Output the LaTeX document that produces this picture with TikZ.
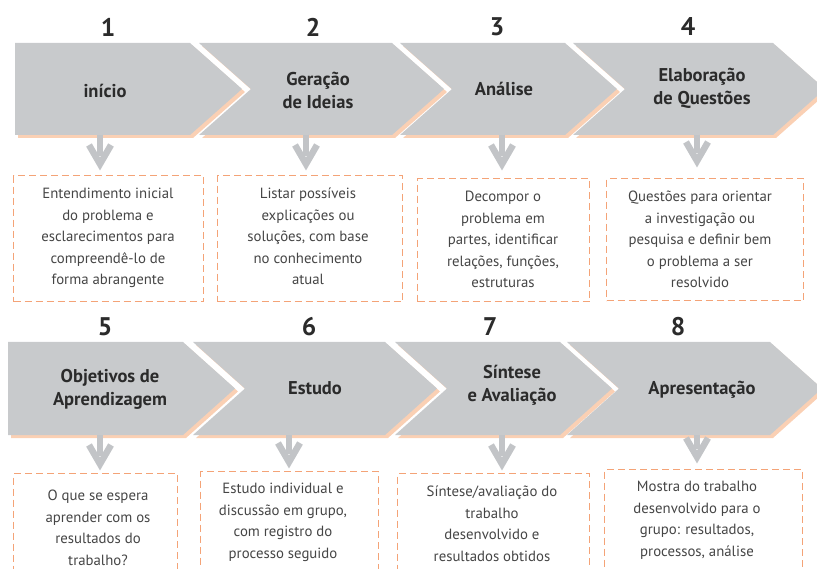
\documentclass[tikz,border=0pt]{standalone}
\usepackage{fontspec}
\setmainfont{PT Sans}
\definecolor{chevgray}{HTML}{C8CACC}
\definecolor{shadoworange}{HTML}{FAD0B4}
\definecolor{dashorange}{HTML}{F4A377}
\definecolor{arrowgray}{HTML}{C2C4C7}
\definecolor{titletext}{HTML}{2B2B2B}
\definecolor{bodytext}{HTML}{454545}
\newcommand{\chevpath}[5]{(#1,#4) -- (#3,#4) -- ({#3+52},{(#4+#5)/2}) -- (#3,#5) -- (#1,#5) -- ({#1+#2},{(#4+#5)/2}) -- cycle}
\newcommand{\mychevron}[5]{%
  \fill[chevshadow, shift={(3,3)}] \chevpath{#1}{#2}{#3}{#4}{#5};
  \fill[chevfill] \chevpath{#1}{#2}{#3}{#4}{#5};}
\newcommand{\mydownarrow}[2]{%
  \draw[downarrow] (#1) -- ([shift={(0,-8)}]#2);
  \draw[downarrow, line join=miter] ([shift={(-11,-19)}]#2) -- (#2) -- ([shift={(11,-19)}]#2);}
\begin{document}
\begin{tikzpicture}[x=1pt,y=-1pt,
  chevfill/.style={fill=chevgray},
  chevshadow/.style={fill=shadoworange},
  numlabel/.style={font=\fontsize{25.5}{28}\selectfont\bfseries, text=titletext, inner sep=0pt},
  steplabel/.style={font=\fontsize{18.5}{23}\selectfont\bfseries, text=titletext, align=center, inner sep=0pt},
  bodybox/.style={draw=dashorange, dash pattern=on 7pt off 4pt, line width=1.4pt, anchor=north west, inner sep=0pt},
  bodytxt/.style={font=\fontsize{14.8}{21.5}\selectfont, text=bodytext, align=center, anchor=north, inner sep=0pt},
  downarrow/.style={draw=arrowgray, line width=6.5pt}
]
\useasboundingbox (0,0) rectangle (817,569);
\clip (0,0) rectangle (817,569);

% ---------- row 1 chevrons ----------
\mychevron{15}{0}{190}{43}{135}
\mychevron{199}{52}{392}{43}{135}
\mychevron{400}{52}{565}{43}{135}
\mychevron{573}{52}{773}{43}{135}
% ---------- row 2 chevrons ----------
\mychevron{8}{0}{183}{342}{435}
\mychevron{193}{52}{385}{342}{435}
\mychevron{395}{52}{560}{342}{435}
\mychevron{567}{52}{770}{342}{435}

% ---------- numbers ----------
\node[numlabel] (n1) at (108,27) {1};
\node[numlabel] (n2) at (313,27) {2};
\node[numlabel] (n3) at (497,27) {3};
\node[numlabel] (n4) at (688,27) {4};
\node[numlabel] (n5) at (105,327) {5};
\node[numlabel] (n6) at (309,327) {6};
\node[numlabel] (n7) at (490,327) {7};
\node[numlabel] (n8) at (678,327) {8};

% ---------- step labels ----------
\node[steplabel] (l1) at (105,91) {início};
\node[steplabel] (l2) at (318,90) {Geração\\de Ideias};
\node[steplabel] (l3) at (504,89) {Análise};
\node[steplabel] (l4) at (702,88) {Elaboração\\de Questões};
\node[steplabel] (l5) at (110,389) {Objetivos de\\Aprendizagem};
\node[steplabel] (l6) at (315,388) {Estudo};
\node[steplabel] (l7) at (512,385) {Síntese\\e Avaliação};
\node[steplabel] (l8) at (702,390) {Apresentação};

% ---------- arrows ----------
\coordinate (a1s) at (100,135); \coordinate (a1e) at (100,164);
\coordinate (a2s) at (306,135); \coordinate (a2e) at (306,164);
\coordinate (a3s) at (502,135); \coordinate (a3e) at (502,164);
\coordinate (a4s) at (697,135); \coordinate (a4e) at (697,161);
\coordinate (a5s) at (100,435); \coordinate (a5e) at (100,464);
\coordinate (a6s) at (289,435); \coordinate (a6e) at (289,462);
\coordinate (a7s) at (502,435); \coordinate (a7e) at (502,464);
\coordinate (a8s) at (697,435); \coordinate (a8e) at (697,457);
\mydownarrow{a1s}{a1e}
\mydownarrow{a2s}{a2e}
\mydownarrow{a3s}{a3e}
\mydownarrow{a4s}{a4e}
\mydownarrow{a5s}{a5e}
\mydownarrow{a6s}{a6e}
\mydownarrow{a7s}{a7e}
\mydownarrow{a8s}{a8e}

% ---------- dashed boxes ----------
\node[bodybox, minimum width=190pt, minimum height=126pt] (b1) at (13,175) {};
\node[bodybox, minimum width=185pt, minimum height=126pt] (b2) at (217,175) {};
\node[bodybox, minimum width=172pt, minimum height=123pt] (b3) at (417,178) {};
\node[bodybox, minimum width=197pt, minimum height=122pt] (b4) at (606,178) {};
\node[bodybox, minimum width=164pt, minimum height=130pt] (b5) at (13,473) {};
\node[bodybox, minimum width=178pt, minimum height=130pt] (b6) at (200,471) {};
\node[bodybox, minimum width=192pt, minimum height=130pt] (b7) at (397,473) {};
\node[bodybox, minimum width=198pt, minimum height=130pt] (b8) at (604,469) {};

% ---------- texts ----------
\node[bodytxt] (t1) at (108,188) {Entendimento inicial\\do problema e\\esclarecimentos para\\compreendê-lo de\\forma abrangente};
\node[bodytxt] (t2) at (308,188) {Listar possíveis\\explicações ou\\soluções, com base\\no conhecimento\\atual};
\node[bodytxt] (t3) at (503,191) {Decompor o\\problema em\\partes, identificar\\relações, funções,\\estruturas};
\node[bodytxt] (t4) at (700,191) {Questões para orientar\\a investigação ou\\pesquisa e definir bem\\o problema a ser\\resolvido};
\node[bodytxt] (t5) at (98,490) {O que se espera\\aprender com os\\resultados do\\trabalho?};
\node[bodytxt] (t6) at (283,483) {Estudo individual e\\discussão em grupo,\\com registro do\\processo seguido};
\node[bodytxt] (t7) at (492,486) {Síntese/avaliação do\\trabalho\\desenvolvido e\\resultados obtidos};
\node[bodytxt] (t8) at (697,481) {Mostra do trabalho\\desenvolvido para o\\grupo: resultados,\\processos, análise};
\end{tikzpicture}
\end{document}
